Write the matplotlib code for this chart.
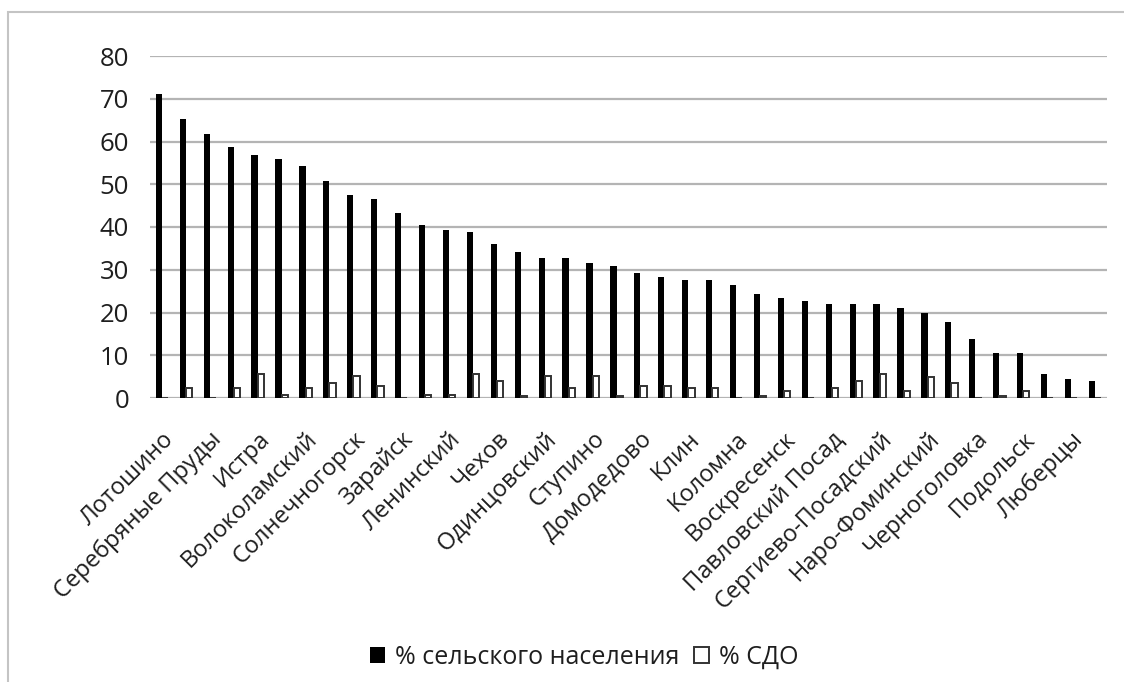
import numpy as np
import matplotlib
matplotlib.use('Agg')
import matplotlib.pyplot as plt
from matplotlib.patches import Rectangle

plt.rcParams['font.family'] = ['Open Sans', 'DejaVu Sans']

# подписи видны только у каждого второго района
labels = ['Лотошино', 'Серебряные Пруды', 'Истра', 'Волоколамский', 'Солнечногорск',
          'Зарайск', 'Ленинский', 'Чехов', 'Одинцовский', 'Ступино',
          'Домодедово', 'Клин', 'Коломна', 'Воскресенск', 'Павловский Посад',
          'Сергиево-Посадский', 'Наро-Фоминский', 'Черноголовка', 'Подольск', 'Люберцы']

rural = [71.2, 65.2, 61.8, 58.6, 56.9, 55.8, 54.2, 50.8, 47.6, 46.5,
         43.2, 40.4, 39.3, 38.8, 36.0, 34.2, 32.7, 32.7, 31.5, 30.9,
         29.2, 28.2, 27.6, 27.6, 26.5, 24.3, 23.3, 22.7, 21.9, 21.9,
         21.9, 21.0, 19.8, 17.7, 13.8, 10.5, 10.5, 5.6, 4.4, 3.9]
sdo = [0, 2.3, 0, 2.3, 5.7, 0.6, 2.3, 3.4, 5.1, 2.8,
       0, 0.6, 0.6, 5.7, 4.0, 0.5, 5.1, 2.3, 5.1, 0.5,
       2.7, 2.7, 2.3, 2.3, 0, 0.5, 1.7, 0, 2.3, 3.9,
       5.6, 1.7, 5.0, 3.4, 0, 0.5, 1.7, 0, 0, 0]

fig = plt.figure(figsize=(11.24, 6.82), dpi=100)
ax = fig.add_axes([150 / 1124, 1 - 398 / 682, (1107 - 150) / 1124, (398 - 56) / 682])

x = np.arange(len(rural))
w = 0.26
ax.bar(x - w / 2, rural, w, color='black', label='% сельского населения', zorder=3)
ax.bar(x + w / 2, sdo, w, color='white', edgecolor='#333333', linewidth=1.4,
       label='% СДО', zorder=3)

ax.set_xlim(-0.5, len(rural) - 0.5)
ax.set_ylim(0, 80)
ax.set_yticks(range(0, 81, 10))
ax.yaxis.grid(True, color='#b4b4b4', linewidth=1.6, zorder=0)
ax.set_axisbelow(True)
for s in ax.spines.values():
    s.set_visible(False)
ax.tick_params(axis='y', length=0, pad=15, labelsize=18.5, labelcolor='#1e1e1e')

ax.set_xticks(x[::2])
ax.set_xticklabels(labels, rotation=45, ha='right', va='top', rotation_mode='anchor',
                   fontsize=17, color='#1e1e1e')
ax.tick_params(axis='x', length=0, pad=21)

fig.legend(loc='lower center', bbox_to_anchor=(0.52, -0.015), ncol=2, frameon=False,
           fontsize=18, handlelength=0.6, handleheight=0.6, handletextpad=0.4,
           columnspacing=0.6, labelcolor='#1e1e1e')

# рамка области диаграммы
fig.patches.append(Rectangle((8 / 1124, -0.1), 1.2, 1.1 - 12 / 682, transform=fig.transFigure,
                             fill=False, edgecolor='#c4c4c4', linewidth=1.5))

fig.savefig('out.png', dpi=100)
